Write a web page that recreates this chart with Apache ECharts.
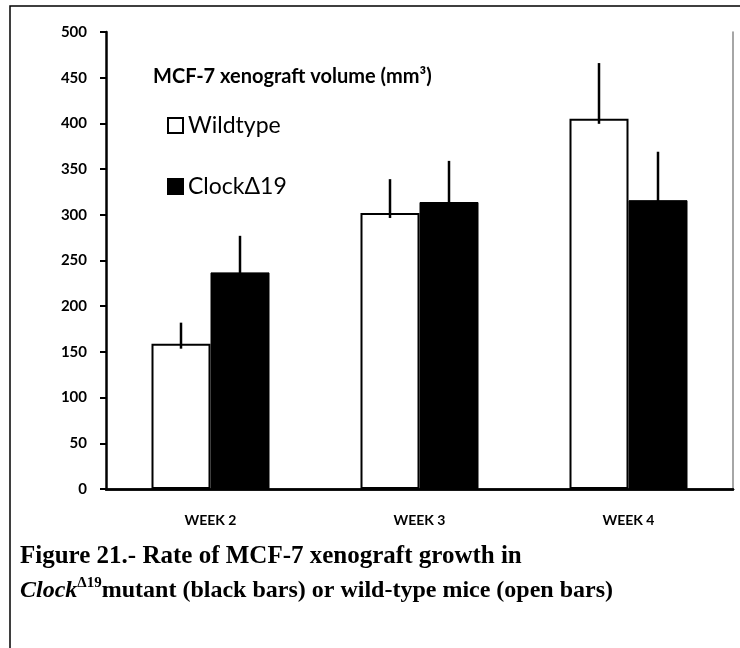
<!DOCTYPE html>
<html>
<head>
<meta charset="utf-8">
<script src="https://cdn.jsdelivr.net/npm/echarts@6/dist/echarts.min.js"></script>
<style>
  html, body { margin: 0; padding: 0; background: #fff; }
  #chart { width: 740px; height: 648px; }
</style>
</head>
<body>
<div id="chart"></div>
<script>
var weeks = ['WEEK 2', 'WEEK 3', 'WEEK 4'];
var wildtype = [159, 302, 405];
var wildtypeErr = [23, 37, 61];
var clockMut = [237, 314, 316];
var clockErr = [40, 45, 53];
var yTicks = [0, 500, 50]; // min, max, step

var chart = echarts.init(document.getElementById('chart'));

var barW = 59;

// upward-only error bars, drawn over the bar at its centre
function errorSeries(name, means, errs, side) {
  return {
    name: name + ' err',
    type: 'custom',
    z: 10,
    data: means.map(function (m, i) { return [i, m, m + errs[i]]; }),
    renderItem: function (params, api) {
      var lo = api.coord([api.value(0), api.value(1)]);
      var hi = api.coord([api.value(0), api.value(2)]);
      var x = lo[0] + side * barW / 2;
      return {
        type: 'line',
        shape: { x1: x, y1: lo[1] + 5, x2: x, y2: hi[1] },
        style: { stroke: '#000', lineWidth: 2.5 }
      };
    }
  };
}

var option = {
  animation: false,
  backgroundColor: '#fff',
  textStyle: { fontFamily: 'Lato' },
  title: {
    text: 'MCF-7 xenograft volume (mm³)',
    left: 148,
    top: 62,
    textStyle: { fontFamily: 'Lato', fontWeight: 'bold', fontSize: 20, color: '#000' }
  },
  legend: {
    orient: 'vertical',
    left: 162,
    top: 109,
    icon: 'rect',
    itemWidth: 15,
    itemHeight: 15,
    itemGap: 38,
    data: ['Wildtype', 'ClockΔ19'],
    textStyle: { fontFamily: 'Lato', fontSize: 23, color: '#000' }
  },
  grid: { left: 106, right: 7, top: 32, bottom: 159 },
  xAxis: [{
    type: 'category',
    data: weeks,
    axisLine: { lineStyle: { color: '#222', width: 2.5 } },
    axisTick: { show: false },
    axisLabel: { fontFamily: 'Lato', fontWeight: 'bold', fontSize: 14, color: '#000', margin: 24 }
  }, {
    type: 'category',
    position: 'top',
    data: weeks,
    axisLine: { lineStyle: { color: '#000', width: 2.5 } },
    axisTick: { show: false },
    axisLabel: { show: false }
  }],
  yAxis: [{
    type: 'value',
    min: yTicks[0],
    max: yTicks[1],
    interval: yTicks[2],
    axisLine: { show: true, lineStyle: { color: '#000', width: 2.5 } },
    axisTick: { show: true, length: 6, lineStyle: { color: '#000', width: 2 } },
    splitLine: { show: false },
    axisLabel: { fontFamily: 'Lato', fontWeight: 'bold', fontSize: 15, color: '#000', margin: 19 }
  }, {
    type: 'value',
    position: 'right',
    min: yTicks[0],
    max: yTicks[1],
    interval: yTicks[2],
    axisLine: { show: true, lineStyle: { color: '#888', width: 1.5 } },
    axisTick: { show: false },
    splitLine: { show: false },
    axisLabel: { show: false }
  }],
  series: [{
    name: 'Wildtype',
    type: 'bar',
    barWidth: barW,
    barGap: '0%',
    data: wildtype,
    itemStyle: { color: '#fff', borderColor: '#000', borderWidth: 2 }
  }, {
    name: 'ClockΔ19',
    type: 'bar',
    barWidth: barW,
    barGap: '0%',
    data: clockMut,
    itemStyle: { color: '#000', borderColor: '#000', borderWidth: 1 }
  },
  errorSeries('Wildtype', wildtype, wildtypeErr, -1),
  errorSeries('ClockΔ19', clockMut, clockErr, 1)
  ],
  graphic: [{
    type: 'rect',
    shape: { x: 10, y: 6, width: 760, height: 700 },
    style: { fill: 'none', stroke: '#000', lineWidth: 1.5 },
    silent: true
  }, {
    type: 'text',
    left: 20,
    top: 544,
    style: {
      text: 'Figure 21.- Rate of MCF-7 xenograft growth in',
      font: 'bold 25px "Liberation Serif"',
      fill: '#000'
    }
  }, {
    type: 'text',
    left: 20,
    top: 576,
    style: {
      text: '{i|Clock}{s|Δ19}{b|mutant (black bars) or wild-type mice (open bars)}',
      fill: '#000',
      rich: {
        i: { font: 'italic bold 24px "Liberation Serif"', verticalAlign: 'bottom', height: 30 },
        s: { font: 'bold 15px "Liberation Serif"', verticalAlign: 'bottom', height: 30, padding: [0, 0, 7, 0] },
        b: { font: 'bold 24px "Liberation Serif"', verticalAlign: 'bottom', height: 30 }
      }
    }
  }]
};

chart.setOption(option);
</script>
</body>
</html>
